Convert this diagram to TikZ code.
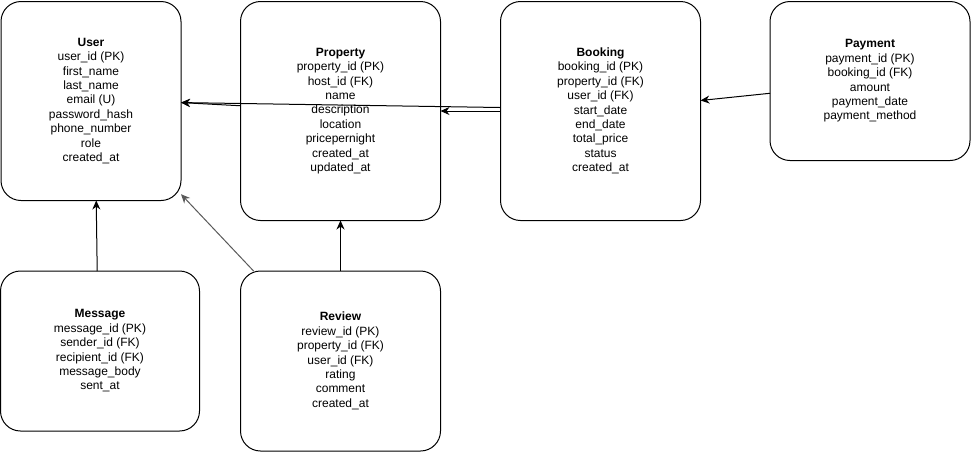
\documentclass[tikz,border=0pt]{standalone}
\usepackage{fontspec}
\setmainfont{Liberation Sans}
\usepackage{tikz}
\usetikzlibrary{arrows.meta}

\begin{document}
\begin{tikzpicture}[
    x=1pt, y=-1pt,
    box/.style={draw, line width=1pt, rounded corners=20pt, align=center, inner sep=0pt, outer sep=0pt, font=\fontsize{12}{14.4}\selectfont},
    arrow/.style={-{Stealth[length=9pt,width=8pt]}, line width=1pt}
]
\useasboundingbox (0,0) rectangle (971,451);

% 实体
\node[box, minimum width=180pt, minimum height=199pt] (User) at (91,101)
  {\textbf{User}\\user\_id (PK)\\first\_name\\last\_name\\email (U)\\password\_hash\\phone\_number\\role\\created\_at};
\node[box, minimum width=200pt, minimum height=219pt] (Prop) at (340.5,111)
  {\textbf{Property}\\property\_id (PK)\\host\_id (FK)\\name\\description\\location\\pricepernight\\created\_at\\updated\_at};
\node[box, minimum width=200pt, minimum height=219pt] (Book) at (600.5,111)
  {\textbf{Booking}\\booking\_id (PK)\\property\_id (FK)\\user\_id (FK)\\start\_date\\end\_date\\total\_price\\status\\created\_at};
\node[box, minimum width=200pt, minimum height=159pt] (Pay) at (870,81)
  {\textbf{Payment}\\payment\_id (PK)\\booking\_id (FK)\\amount\\payment\_date\\payment\_method};
\node[box, minimum width=199pt, minimum height=160pt] (Msg) at (100,351)
  {\textbf{Message}\\message\_id (PK)\\sender\_id (FK)\\recipient\_id (FK)\\message\_body\\sent\_at};
\node[box, minimum width=200pt, minimum height=180pt] (Rev) at (340.5,361)
  {\textbf{Review}\\review\_id (PK)\\property\_id (FK)\\user\_id (FK)\\rating\\comment\\created\_at};

% 关系
\draw[arrow] (Book.178.3) -- (User.-1.9);
\draw[arrow] (Prop.177.7) -- (User.-1.9);
\draw[arrow] (Book.west) -- (Prop.east);
\draw[arrow] (Pay.-173.2) -- (Book.6.2);
\draw[arrow] (Msg.92) -- (User.-87.7);
\draw[arrow, black!65] (Rev.134) -- (User.-46.5);
\draw[arrow] (Rev.north) -- (Prop.south);

\end{tikzpicture}
\end{document}
